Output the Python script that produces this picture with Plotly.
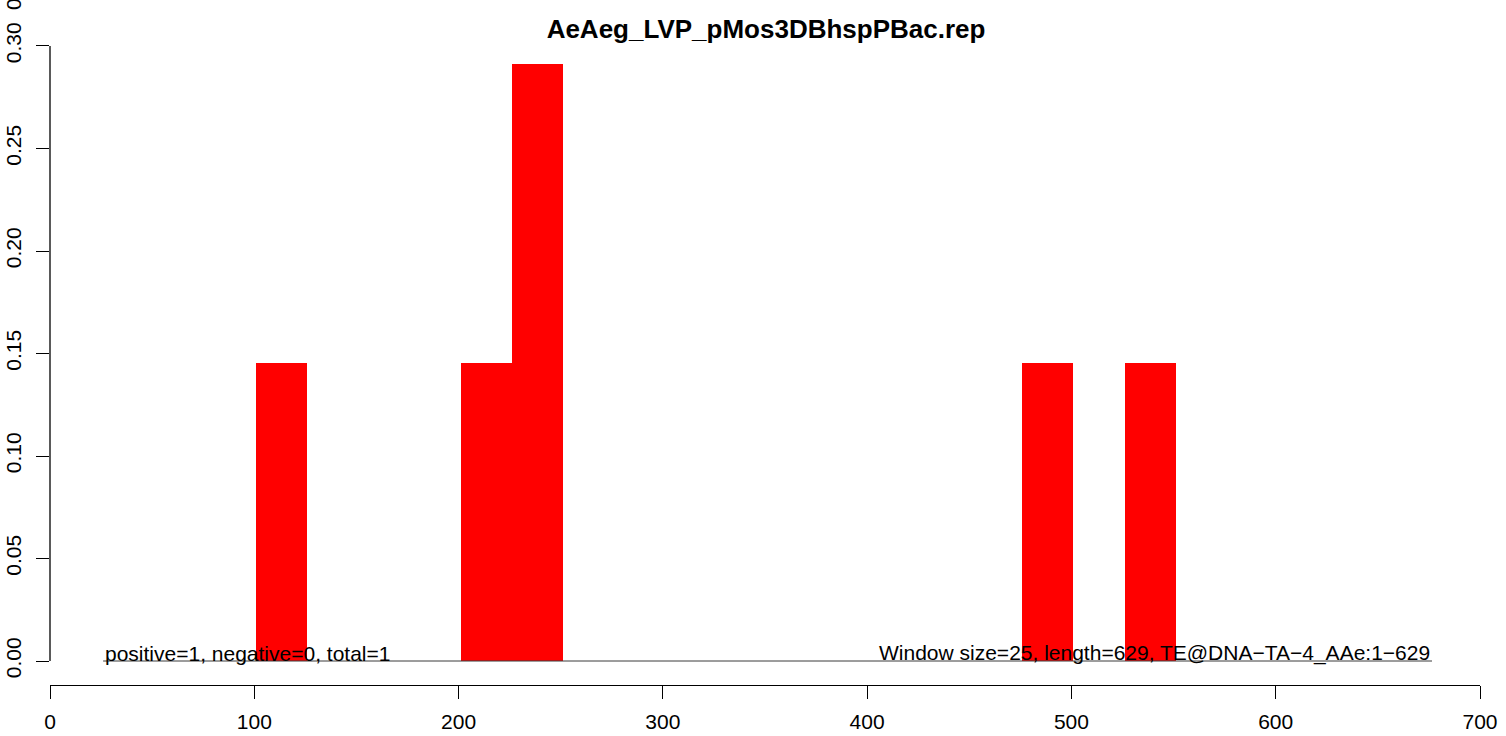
import plotly.graph_objects as go

# ---- data ----
title_text = "AeAeg_LVP_pMos3DBhspPBac.rep"
bin_starts = [101, 201, 226, 476, 526]
bin_heights = [0.1455, 0.1455, 0.291, 0.1455, 0.1455]
window_size = 25
baseline_x = [26, 676.5]
baseline_y = [0, 0]
x_ticks = [0, 100, 200, 300, 400, 500, 600, 700]
y_ticks = [0.0, 0.05, 0.10, 0.15, 0.20, 0.25, 0.30]
y_tick_labels = ["0.00", "0.05", "0.10", "0.15", "0.20", "0.25", "0.30"]
left_note = "positive=1, negative=0, total=1"
right_note = "Window size=25, length=629, TE@DNA\u2212TA\u22124_AAe:1\u2212629"

FONT = "Liberation Sans, Arial, Helvetica, sans-serif"
W, H = 1506, 736
ML, MR, MT, MB = 50, 26, 22, 51

fig = go.Figure()

fig.add_trace(go.Scatter(
    x=baseline_x, y=baseline_y, mode="lines",
    line=dict(color="#3a3a3a", width=1), hoverinfo="skip", showlegend=False,
))

fig.add_trace(go.Bar(
    x=[s + window_size / 2 for s in bin_starts],
    y=bin_heights,
    width=[window_size] * len(bin_starts),
    marker=dict(color="#FF0000", line=dict(width=0)),
    showlegend=False,
))

# y axis line spanning only the tick range (R style)
fig.add_shape(type="line", xref="x domain", yref="y",
              x0=0, x1=0, y0=y_ticks[0], y1=y_ticks[-1],
              line=dict(color="black", width=1.3))

fig.add_annotation(x=baseline_x[0], y=0, xref="x", yref="y",
                   text=left_note, showarrow=False,
                   xanchor="left", yanchor="bottom", yshift=-6,
                   font=dict(family=FONT, size=21, color="black"))
fig.add_annotation(x=baseline_x[1], y=0, xref="x", yref="y",
                   text=right_note, showarrow=False,
                   xanchor="right", yanchor="bottom", yshift=-6,
                   font=dict(family=FONT, size=21, color="black"))

# clipped stray label at top-left
pw = W - ML - MR
ph = H - MT - MB
fig.add_annotation(x=(13 - ML) / pw, y=(H - MB - 4) / ph, xref="paper", yref="paper",
                   text="0", showarrow=False, textangle=-90,
                   xanchor="center", yanchor="middle",
                   font=dict(family=FONT, size=21, color="black"))

fig.update_layout(
    width=W, height=H,
    margin=dict(l=ML, r=MR, t=MT, b=MB, autoexpand=False),
    paper_bgcolor="white", plot_bgcolor="white",
    bargap=0,
    title=dict(text="<b>" + title_text + "</b>", x=(766 / W), xanchor="center",
               y=1 - 29 / H, yanchor="middle",
               font=dict(family=FONT, size=26, color="black")),
    xaxis=dict(range=[0, 700], tickvals=x_ticks, ticks="outside", ticklen=13,
               tickwidth=1.3, tickcolor="black", showline=True, linecolor="black",
               linewidth=1.3, showgrid=False, zeroline=False, automargin=False,
               ticklabelstandoff=5,
               tickfont=dict(family=FONT, size=21, color="black")),
    yaxis=dict(range=[-0.0117, 0.3117], tickvals=y_ticks, ticktext=y_tick_labels,
               ticks="outside", ticklen=13, tickwidth=1.3, tickcolor="black",
               showline=False, showgrid=False, zeroline=False, tickangle=-90,
               automargin=False, ticklabelstandoff=7,
               tickfont=dict(family=FONT, size=21, color="black")),
)

fig.write_html("out.html", config={"displayModeBar": False},
               post_script="document.body.style.margin='0px';document.body.style.overflow='hidden';")
